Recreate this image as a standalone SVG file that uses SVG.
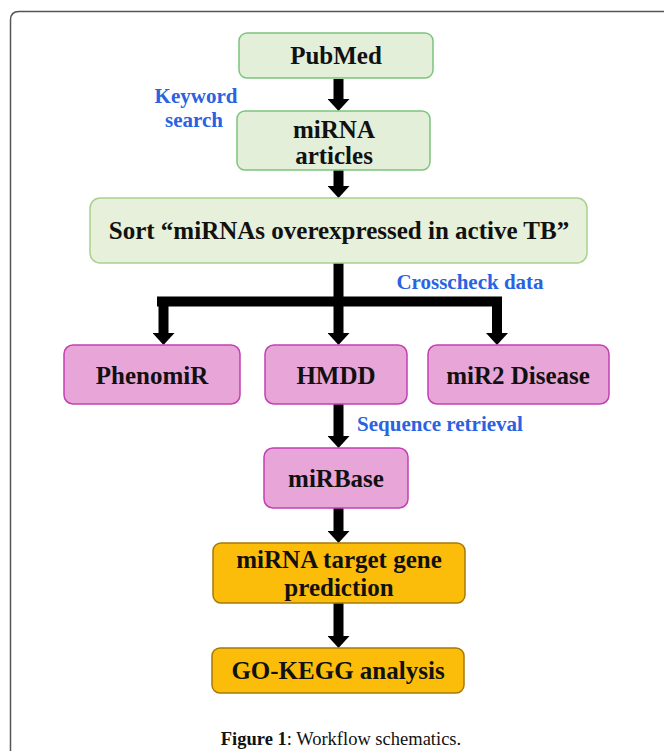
<svg xmlns="http://www.w3.org/2000/svg" width="664" height="751" viewBox="0 0 664 751">
<style>
.green{fill:#e3efd9;stroke:#7cc47c;stroke-width:1.5}
.sortbox{fill:#e6f0da;stroke:#a9d18e;stroke-width:1.5}
.pink{fill:#e8a6d8;stroke:#c23fb4;stroke-width:1.5}
.orange{fill:#fcbd0a;stroke:#a57a06;stroke-width:1.5}
.lbl{font-family:"Liberation Serif","Times New Roman",serif;font-weight:bold;font-size:25px;fill:#111;text-anchor:middle}
.blue{font-family:"Liberation Serif","Times New Roman",serif;font-weight:bold;font-size:21px;fill:#2a62e0;text-anchor:middle}
.shaft{stroke:#000;stroke-width:10;fill:none}
.cap{font-family:"Liberation Serif","Times New Roman",serif;font-size:18.5px;fill:#111;text-anchor:middle}
</style>
<defs>
<marker id="head" viewBox="0 0 12 22" refX="0" refY="11" markerWidth="12" markerHeight="22" markerUnits="userSpaceOnUse" orient="auto">
<path d="M0,0 L12,11 L0,22 z" fill="#000"/>
</marker>
</defs>
<rect width="664" height="751" fill="#fff"/>
<path d="M10.5,751 L10.5,20 Q10.5,11.5 19,11.5 L664,11.5" fill="none" stroke="#555" stroke-width="1.5"/>

<g id="connectors">
<line class="shaft" x1="338.5" y1="79" x2="338.5" y2="99" marker-end="url(#head)"/>
<line class="shaft" x1="338.5" y1="170" x2="338.5" y2="186" marker-end="url(#head)"/>
<line class="shaft" x1="338.5" y1="263" x2="338.5" y2="333" marker-end="url(#head)"/>
<line class="shaft" x1="157" y1="301.5" x2="502" y2="301.5"/>
<line class="shaft" x1="163.5" y1="297" x2="163.5" y2="333" marker-end="url(#head)"/>
<line class="shaft" x1="497" y1="297" x2="497" y2="333" marker-end="url(#head)"/>
<line class="shaft" x1="338.5" y1="404" x2="338.5" y2="436" marker-end="url(#head)"/>
<line class="shaft" x1="338.5" y1="508" x2="338.5" y2="531" marker-end="url(#head)"/>
<line class="shaft" x1="338.5" y1="603" x2="338.5" y2="636" marker-end="url(#head)"/>
<text class="blue" x="196" y="103">Keyword</text>
<text class="blue" x="194" y="127">search</text>
<text class="blue" x="470" y="289">Crosscheck data</text>
<text class="blue" x="440" y="431">Sequence retrieval</text>
</g>

<g id="pubmed">
<rect class="green" x="239" y="33" width="194" height="45" rx="8"/>
<text class="lbl" x="336" y="64">PubMed</text>
</g>
<g id="mirna-articles">
<rect class="green" x="237" y="111" width="193" height="59" rx="8"/>
<text class="lbl" x="334" y="138">miRNA</text>
<text class="lbl" x="334" y="164">articles</text>
</g>
<g id="sort">
<rect class="sortbox" x="90" y="198" width="497" height="65" rx="10"/>
<text class="lbl" x="339" y="239">Sort “miRNAs overexpressed in active TB”</text>
</g>
<g id="phenomir">
<rect class="pink" x="64" y="345" width="176" height="59" rx="9"/>
<text class="lbl" x="152" y="384">PhenomiR</text>
</g>
<g id="hmdd">
<rect class="pink" x="265" y="345" width="142" height="59" rx="9"/>
<text class="lbl" x="336" y="384">HMDD</text>
</g>
<g id="mir2disease">
<rect class="pink" x="428" y="345" width="181" height="59" rx="9"/>
<text class="lbl" x="518" y="384">miR2 Disease</text>
</g>
<g id="mirbase">
<rect class="pink" x="264" y="448" width="144" height="60" rx="9"/>
<text class="lbl" x="336" y="487">miRBase</text>
</g>
<g id="target-prediction">
<rect class="orange" x="213" y="543" width="252" height="60" rx="8"/>
<text class="lbl" x="339" y="568">miRNA target gene</text>
<text class="lbl" x="339" y="596">prediction</text>
</g>
<g id="go-kegg">
<rect class="orange" x="212" y="648" width="252" height="45" rx="8"/>
<text class="lbl" x="338" y="679">GO-KEGG analysis</text>
</g>
<text class="cap" x="341" y="745"><tspan font-weight="bold">Figure 1</tspan>: Workflow schematics.</text>
</svg>
